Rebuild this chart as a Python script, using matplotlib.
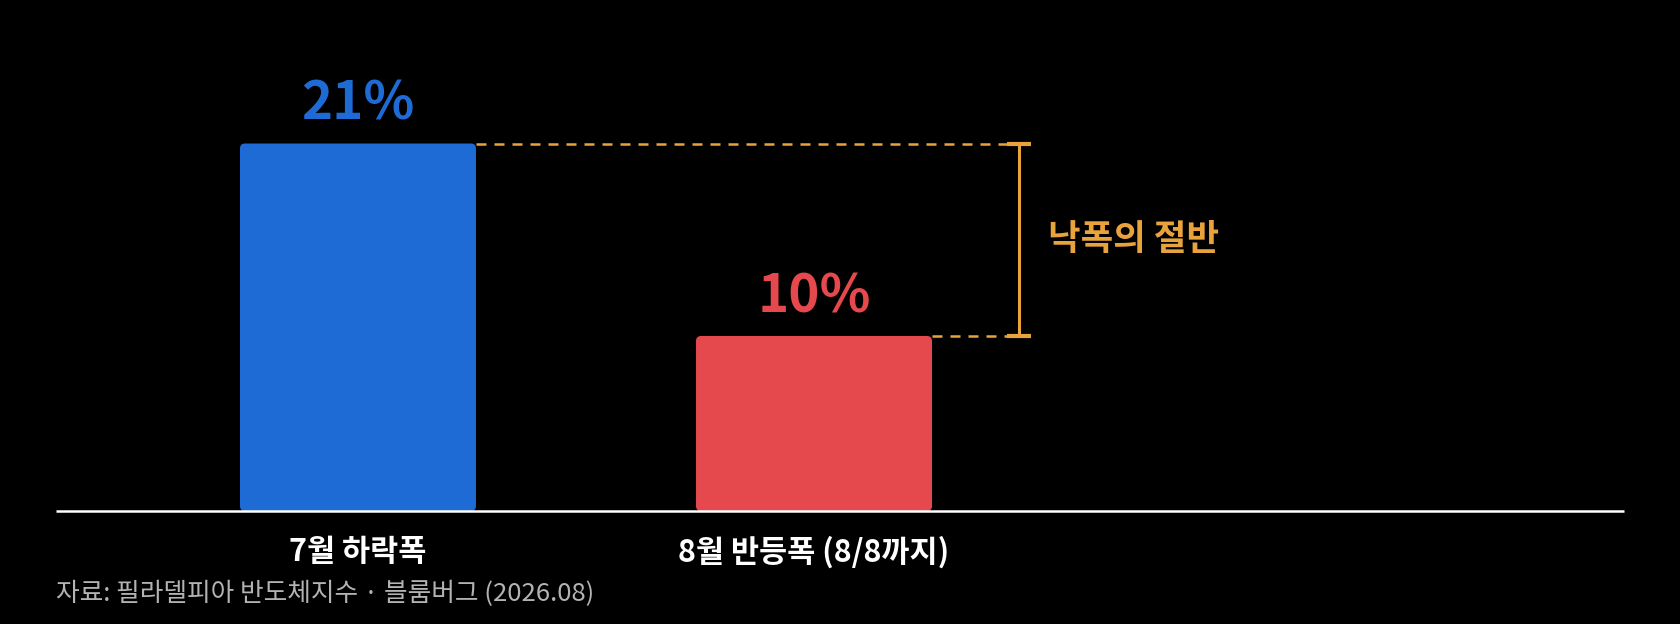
import matplotlib.pyplot as plt
from matplotlib.patches import FancyBboxPatch

plt.rcParams['font.family'] = ['Noto Sans CJK KR', 'DejaVu Sans']

categories = ['7월 하락폭', '8월 반등폭 (8/8까지)']
values = [21, 10]
value_labels = ['21%', '10%']
colors = ['#1E6BD6', '#E5484D']
gap_label = '낙폭의 절반'
source = '자료: 필라델피아 반도체지수 · 블룸버그 (2026.08)'

orange = '#E8A33D'
bg = '#000000'

fig = plt.figure(figsize=(16.8, 6.24), dpi=100, facecolor=bg)
ax = fig.add_axes([0, 0, 1, 1])
ax.set_facecolor(bg)
ax.set_xlim(-0.785, 2.899)
ax.set_ylim(-6.457, 29.2)
ax.axis('off')

width = 0.5175
x = list(range(len(values)))
bars = ax.bar(x, values, width=width, color=colors)

# swap plain bars for rounded ones
px_x = 456.0   # pixels per x unit
px_y = 17.5    # pixels per y unit
for b in bars:
    b.set_visible(False)
    p = FancyBboxPatch((b.get_x(), b.get_y()), b.get_width(), b.get_height(),
                       boxstyle='round,pad=0,rounding_size=%f' % (5 / px_x),
                       mutation_aspect=px_x / px_y,
                       facecolor=b.get_facecolor(), edgecolor='none', zorder=2)
    ax.add_patch(p)

# baseline
ax.hlines(0, -0.662, 2.776, color='white', lw=1.8, zorder=3)

for xi, v, lab, c, cat in zip(x, values, value_labels, colors, categories):
    ax.annotate(lab, (xi, v), xytext=(0, 17), textcoords='offset points',
                ha='center', va='baseline', fontsize=38, fontweight='bold', color=c)
    ax.annotate(cat, (xi, 0), xytext=(0, -29.5), textcoords='offset points',
                ha='center', va='center', fontsize=22, fontweight='bold', color='white')

# dashed guides and bracket
bx = 1.4496
cap = 0.026
ax.plot([x[0] + width / 2, bx], [values[0], values[0]], color=orange, lw=1.8,
        dashes=(4, 3.2), zorder=1)
ax.plot([x[1] + width / 2, bx], [values[1], values[1]], color=orange, lw=1.8,
        dashes=(4, 3.2), zorder=1)
ax.vlines(bx, values[1], values[0], color=orange, lw=2.2)
ax.hlines([values[0], values[1]], bx - cap, bx + cap, color=orange, lw=3)

ax.annotate(gap_label, (bx, (values[0] + values[1]) / 2), xytext=(21, 0),
            textcoords='offset points', ha='left', va='center',
            fontsize=25.5, fontweight='bold', color=orange)

fig.text(0.0333, 0.048, source, ha='left', va='center', fontsize=18.5, color='#B3B3B3')

fig.savefig('out.png', dpi=100, facecolor=bg)
